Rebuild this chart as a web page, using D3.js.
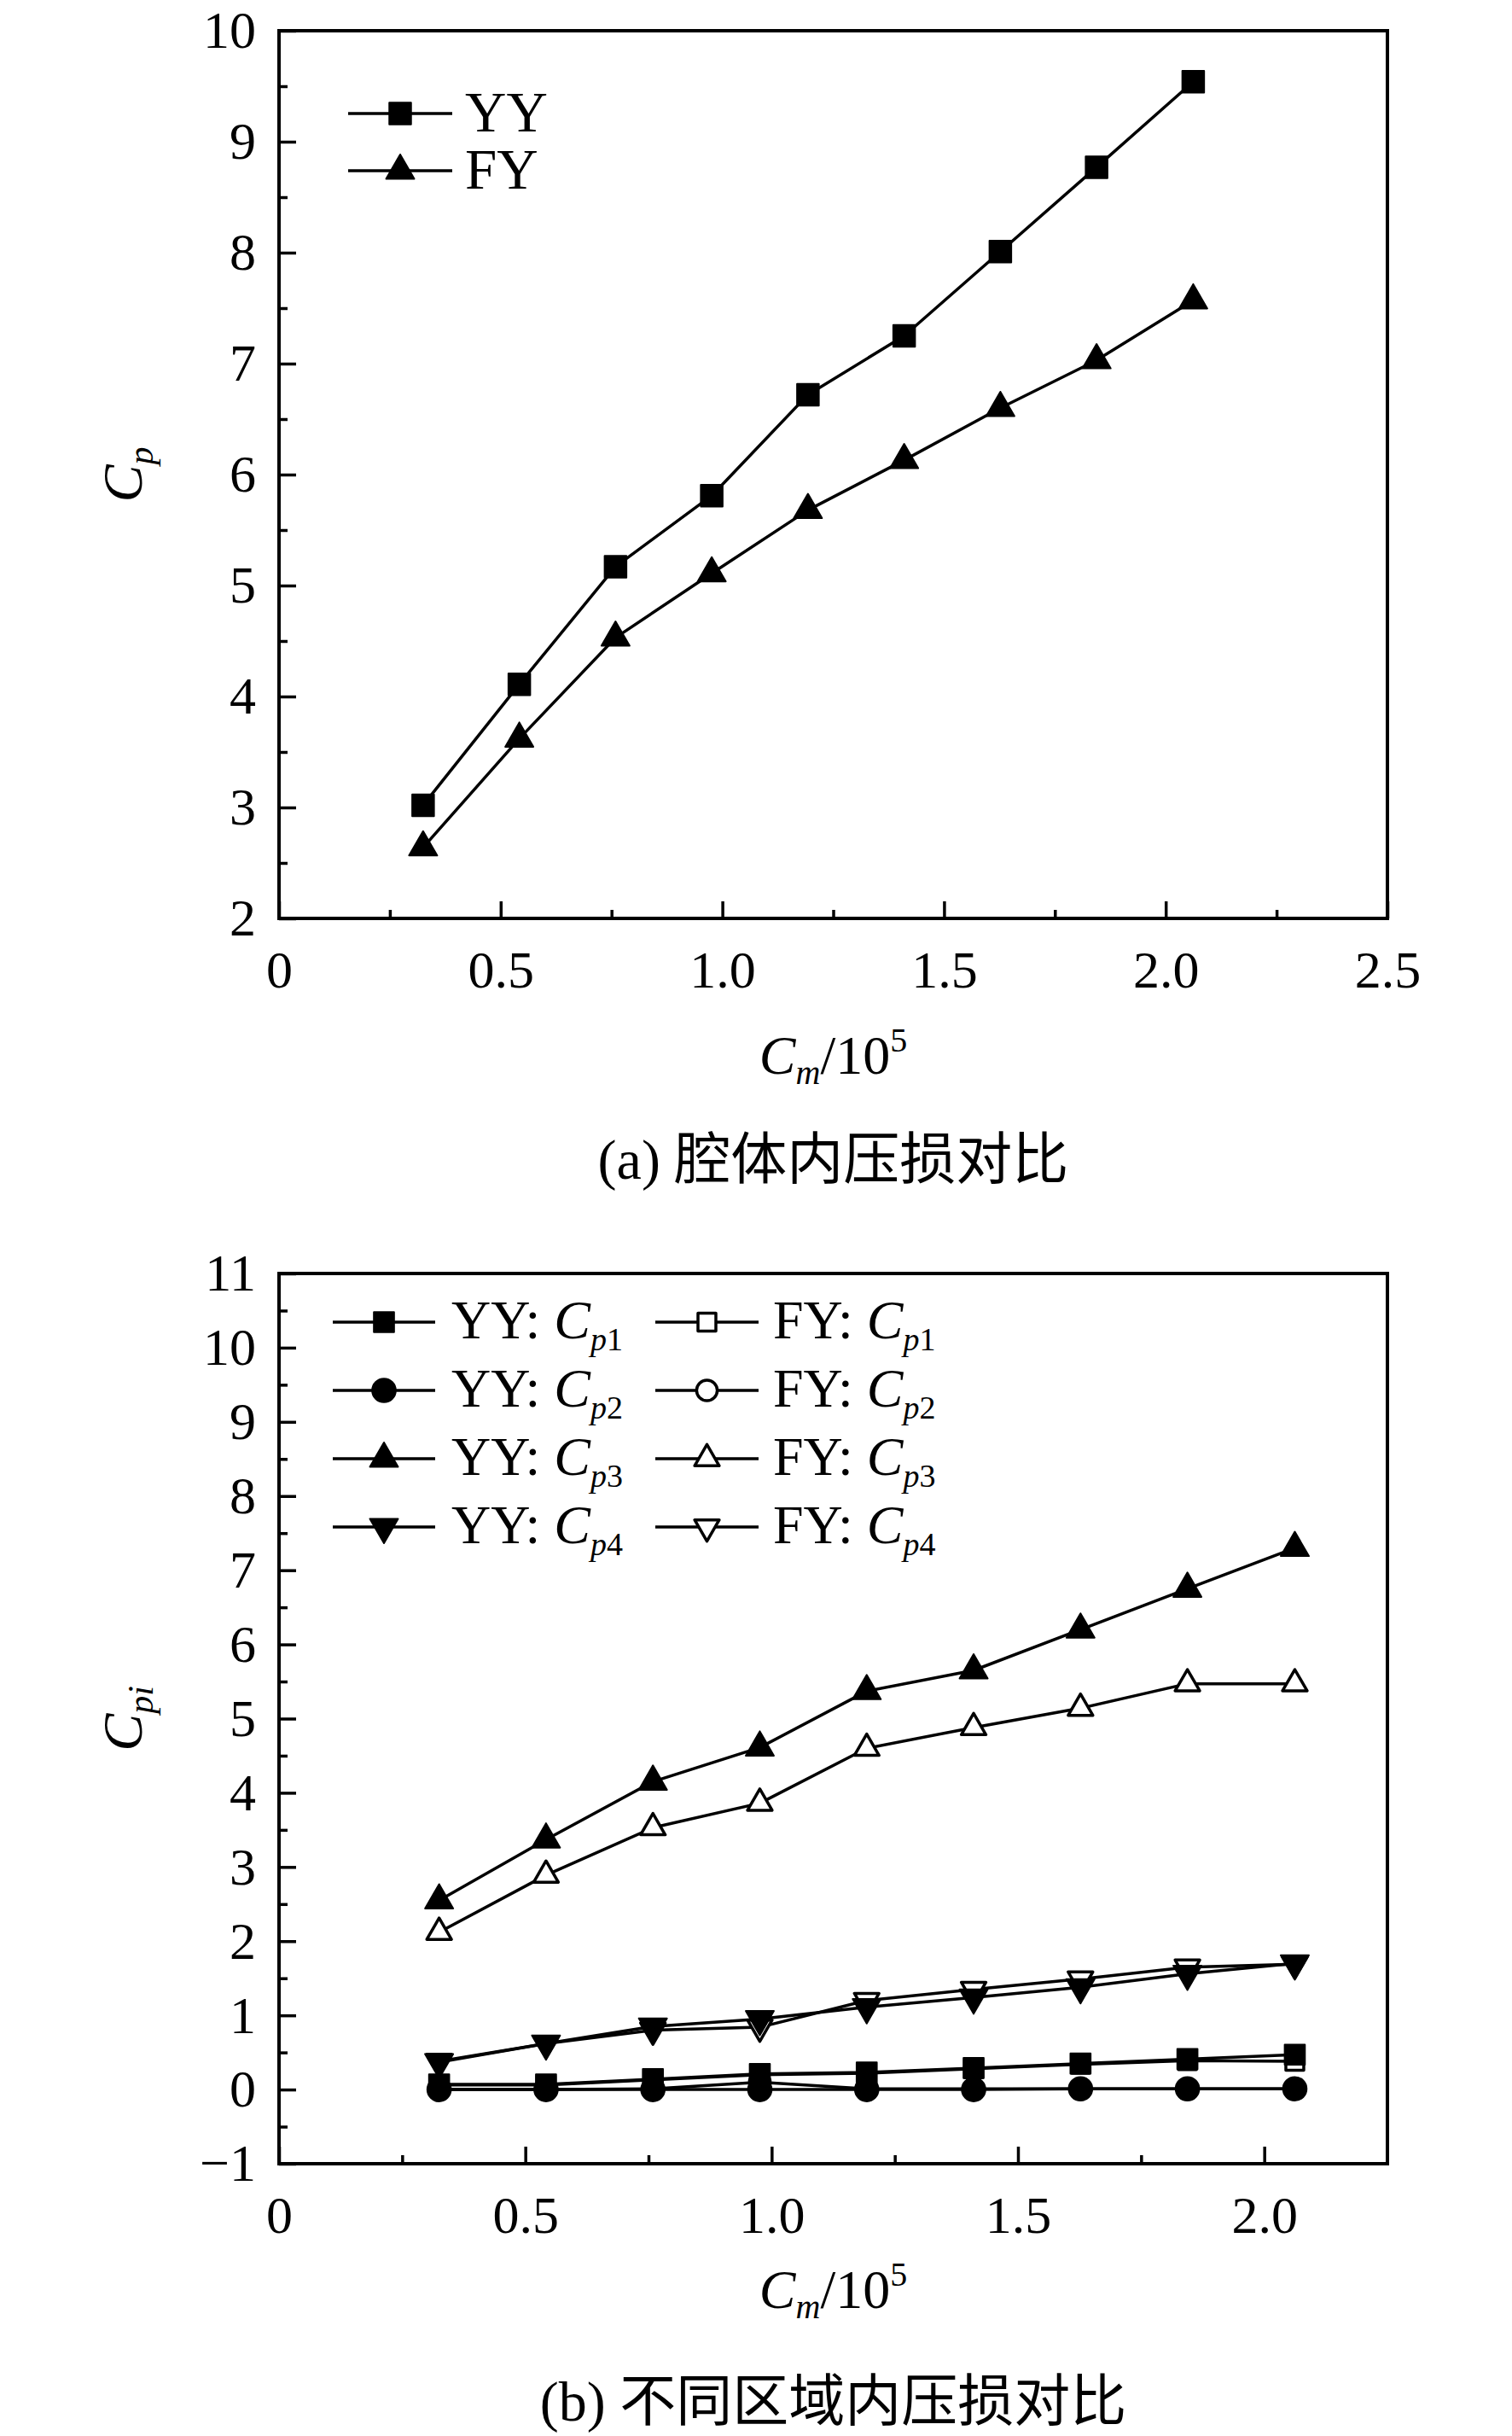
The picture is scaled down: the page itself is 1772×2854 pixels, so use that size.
<!DOCTYPE html>
<html><head><meta charset="utf-8">
<script src="https://cdn.jsdelivr.net/npm/d3@7"></script>
<style>
body{margin:0;background:#fff}
svg{display:block}
text{font-family:"Liberation Serif","Times New Roman",serif;fill:#000}
.cjk{font-family:"Liberation Serif","Noto Sans CJK SC",serif}
</style>
</head><body>
<svg id="c" width="1772" height="2854"></svg>
<script>
// ---------- data ----------
const xValues = [0.325, 0.542, 0.759, 0.976, 1.193, 1.410, 1.627, 1.844, 2.062];

// panel (a)
const aYY = [3.02, 4.11, 5.17, 5.81, 6.72, 7.25, 8.01, 8.77, 9.54];
const aFY = [2.64, 3.62, 4.53, 5.11, 5.68, 6.13, 6.60, 7.03, 7.57];
const aXTicks = [0, 0.5, 1.0, 1.5, 2.0, 2.5];
const aXTickLabels = ["0", "0.5", "1.0", "1.5", "2.0", "2.5"];
const aXMinor = [0.25, 0.75, 1.25, 1.75, 2.25];
const aYTicks = [2, 3, 4, 5, 6, 7, 8, 9, 10];
const aYTickLabels = ["2", "3", "4", "5", "6", "7", "8", "9", "10"];
const aYMinor = [2.5, 3.5, 4.5, 5.5, 6.5, 7.5, 8.5, 9.5];

// panel (b)
const bYYCp1 = [0.07, 0.07, 0.14, 0.21, 0.23, 0.29, 0.35, 0.41, 0.47];
const bFYCp1 = [0.06, 0.06, 0.13, 0.20, 0.22, 0.28, 0.34, 0.39, 0.38];
const bYYCp2 = [0.00, 0.00, 0.00, 0.00, 0.00, 0.00, 0.01, 0.01, 0.01];
const bFYCp2 = [0.00, 0.00, 0.01, 0.10, 0.01, 0.01, 0.01, 0.01, 0.01];
const bYYCp3 = [2.55, 3.37, 4.15, 4.61, 5.37, 5.65, 6.20, 6.75, 7.30];
const bFYCp3 = [2.12, 2.89, 3.53, 3.86, 4.60, 4.88, 5.14, 5.47, 5.47];
const bYYCp4 = [0.37, 0.62, 0.85, 0.95, 1.11, 1.24, 1.38, 1.56, 1.70];
const bFYCp4 = [0.38, 0.62, 0.80, 0.84, 1.20, 1.35, 1.49, 1.65, 1.69];
const bXTicks = [0, 0.5, 1.0, 1.5, 2.0];
const bXTickLabels = ["0", "0.5", "1.0", "1.5", "2.0"];
const bXMinor = [0.25, 0.75, 1.25, 1.75];
const bYTicks = [-1, 0, 1, 2, 3, 4, 5, 6, 7, 8, 9, 10, 11];
const bYTickLabels = ["\u22121", "0", "1", "2", "3", "4", "5", "6", "7", "8", "9", "10", "11"];
const bYMinor = [-0.5, 0.5, 1.5, 2.5, 3.5, 4.5, 5.5, 6.5, 7.5, 8.5, 9.5, 10.5];

// ---------- drawing ----------
const svg = d3.select("#c");
const TICK_FS = 62;

function styleAxis(g) {
  g.attr("font-size", null).attr("font-family", null);
  g.select(".domain").remove();
  g.selectAll(".tick line").attr("stroke", "#000").attr("stroke-width", 3.5);
  g.selectAll(".tick text").style("font-size", TICK_FS + "px").attr("fill", "#000");
}

function richText(parent, x, y, parts, opts = {}) {
  const t = parent.append("text").attr("x", x).attr("y", y)
    .attr("text-anchor", opts.anchor || "start");
  if (opts.transform) t.attr("transform", opts.transform);
  let cur = 0;
  parts.forEach(p => {
    const sp = t.append("tspan").text(p.t).style("font-size", p.size + "px");
    if (p.italic) sp.style("font-style", "italic");
    const target = p.dy || 0;
    if (target !== cur) { sp.attr("dy", target - cur); cur = target; }
  });
  return t;
}

function symbolPath(type, size) {
  if (type === "square") return d3.symbol(d3.symbolSquare, size)();
  if (type === "circle") return d3.symbol(d3.symbolCircle, size)();
  return d3.symbol(d3.symbolTriangle, size)();
}

function drawMarker(g, cx, cy, m) {
  const filled = m.filled;
  return g.append("path")
    .attr("d", symbolPath(m.shape, filled ? m.size : m.openSize))
    .attr("transform", `translate(${cx},${cy})` + (m.down ? " rotate(180)" : ""))
    .attr("fill", filled ? "#000" : "#fff")
    .attr("stroke", "#000")
    .attr("stroke-width", filled ? 2 : 3.5)
    .attr("stroke-linejoin", "round");
}

function panel(o) {
  const x = d3.scaleLinear().domain(o.xDomain).range([o.left, o.right]);
  const y = d3.scaleLinear().domain(o.yDomain).range([o.bottom, o.top]);
  const g = svg.append("g").attr("transform", `translate(0,${o.shiftY || 0})`);

  // minor ticks
  g.append("g").attr("transform", `translate(0,${o.bottom})`)
    .call(d3.axisBottom(x).tickValues(o.xMinor).tickSize(-10).tickFormat(""))
    .call(styleAxis);
  g.append("g").attr("transform", `translate(${o.left},0)`)
    .call(d3.axisLeft(y).tickValues(o.yMinor).tickSize(-10).tickFormat(""))
    .call(styleAxis);
  // major ticks
  g.append("g").attr("transform", `translate(0,${o.bottom})`)
    .call(d3.axisBottom(x).tickValues(o.xTicks).tickSize(-20).tickPadding(37)
      .tickFormat((d, i) => o.xTickLabels[i]))
    .call(styleAxis);
  g.append("g").attr("transform", `translate(${o.left},0)`)
    .call(d3.axisLeft(y).tickValues(o.yTicks).tickSize(-20).tickPadding(27)
      .tickFormat((d, i) => o.yTickLabels[i]))
    .call(styleAxis);

  // frame
  g.append("rect").attr("x", o.left).attr("y", o.top)
    .attr("width", o.right - o.left).attr("height", o.bottom - o.top)
    .attr("fill", "none").attr("stroke", "#000").attr("stroke-width", 4);

  // series
  const line = d3.line().x(d => x(d[0])).y(d => y(d[1]));
  o.series.forEach(s => {
    const pts = xValues.map((xv, i) => [xv, s.values[i]]);
    g.append("path").attr("d", line(pts)).attr("fill", "none")
      .attr("stroke", "#000").attr("stroke-width", 3.5).attr("stroke-linejoin", "round");
    pts.forEach(p => drawMarker(g, x(p[0]), y(p[1]), s.marker));
  });

  // legend
  o.legend.forEach(L => {
    g.append("line").attr("x1", L.x1).attr("x2", L.x2).attr("y1", L.my).attr("y2", L.my)
      .attr("stroke", "#000").attr("stroke-width", 3.5);
    drawMarker(g, (L.x1 + L.x2) / 2, L.my, L.marker);
    richText(g, L.tx, L.ty, L.parts);
  });

  // axis titles & caption
  const cx = (o.left + o.right) / 2;
  richText(g, cx, o.xTitleY, [
    {t: "C", italic: true, size: 64},
    {t: "m", italic: true, size: 40, dy: 12},
    {t: "/10", size: 64, dy: 0},
    {t: "5", size: 40, dy: -26}
  ], {anchor: "middle"});
  richText(g, 0, 0, o.yTitleParts,
    {anchor: "middle", transform: `translate(${o.yTitleX},${(o.top + o.bottom) / 2}) rotate(-90)`});
  g.append("text").attr("class", "cjk").attr("x", cx).attr("y", o.captionY)
    .attr("text-anchor", "middle").style("font-size", "66px").text(o.caption);
}

// marker styles
const mSqA = {shape: "square", filled: true, size: 650};
const mTriA = {shape: "triangle", filled: true, size: 470};
const mSq = {shape: "square", filled: true, size: 560, openSize: 440};
const mCi = {shape: "circle", filled: true, size: 600, openSize: 460};
const mTri = {shape: "triangle", filled: true, size: 470, openSize: 360};

function open(m) { return Object.assign({}, m, {filled: false}); }
function down(m) { return Object.assign({}, m, {down: true}); }

// ---------- panel (a) ----------
panel({
  shiftY: 5,
  left: 327, right: 1626, top: 31, bottom: 1071,
  xDomain: [0, 2.5], yDomain: [2, 10],
  xTicks: aXTicks, xTickLabels: aXTickLabels, xMinor: aXMinor,
  yTicks: aYTicks, yTickLabels: aYTickLabels, yMinor: aYMinor,
  series: [
    {values: aYY, marker: mSqA},
    {values: aFY, marker: mTriA}
  ],
  legend: [
    {x1: 408, x2: 530, my: 128, marker: mSqA, tx: 545, ty: 149, parts: [{t: "YY", size: 67}]},
    {x1: 408, x2: 530, my: 195, marker: mTriA, tx: 545, ty: 216, parts: [{t: "FY", size: 67}]}
  ],
  xTitleY: 1253,
  yTitleX: 166,
  yTitleParts: [{t: "C", italic: true, size: 66}, {t: "p", italic: true, size: 42, dy: 13}],
  captionY: 1376,
  caption: "(a) 腔体内压损对比"
});

// ---------- panel (b) ----------
function legParts(prefix, idx) {
  return [
    {t: prefix + ": ", size: 64},
    {t: "C", italic: true, size: 64},
    {t: "p", italic: true, size: 38, dy: 14},
    {t: idx, size: 38, dy: 14}
  ];
}
const rowsB = [1568, 1648, 1728, 1808];
const yyMarkers = [mSq, mCi, mTri, down(mTri)];
const fyMarkers = [open(mSq), open(mCi), open(mTri), open(down(mTri))];
const legendB = [];
rowsB.forEach((ty, i) => {
  legendB.push({x1: 390, x2: 510, my: ty - 19, marker: yyMarkers[i], tx: 529, ty: ty, parts: legParts("YY", String(i + 1))});
  legendB.push({x1: 768, x2: 889, my: ty - 19, marker: fyMarkers[i], tx: 906, ty: ty, parts: legParts("FY", String(i + 1))});
});

panel({
  left: 327, right: 1626, top: 1492, bottom: 2535,
  xDomain: [0, 2.25], yDomain: [-1, 11],
  xTicks: bXTicks, xTickLabels: bXTickLabels, xMinor: bXMinor,
  yTicks: bYTicks, yTickLabels: bYTickLabels, yMinor: bYMinor,
  series: [
    {values: bFYCp1, marker: fyMarkers[0]},
    {values: bFYCp2, marker: fyMarkers[1]},
    {values: bFYCp3, marker: fyMarkers[2]},
    {values: bFYCp4, marker: fyMarkers[3]},
    {values: bYYCp1, marker: yyMarkers[0]},
    {values: bYYCp2, marker: yyMarkers[1]},
    {values: bYYCp3, marker: yyMarkers[2]},
    {values: bYYCp4, marker: yyMarkers[3]}
  ],
  legend: legendB,
  xTitleY: 2704,
  yTitleX: 166,
  yTitleParts: [{t: "C", italic: true, size: 66}, {t: "pi", italic: true, size: 42, dy: 13}],
  captionY: 2836,
  caption: "(b) 不同区域内压损对比"
});
</script>
</body></html>
